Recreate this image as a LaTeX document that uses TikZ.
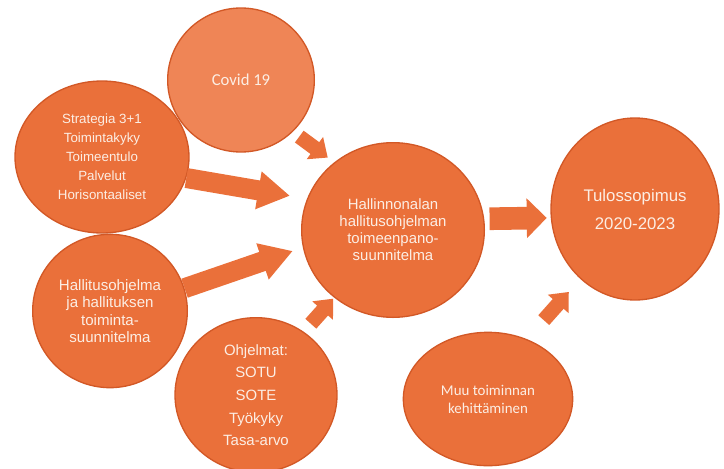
\documentclass[tikz,border=0pt]{standalone}
\usepackage{fontspec}
\setmainfont{Liberation Sans}
\newfontfamily\calibrifont{Carlito}
\usepackage{tikz}
\usetikzlibrary{arrows.meta,shapes.geometric}
\definecolor{ballorange}{RGB}{234,112,58}
\definecolor{balllight}{RGB}{239,133,86}
\definecolor{balledge}{RGB}{210,88,38}
\definecolor{balltext}{RGB}{252,238,228}

\begin{document}
\begin{tikzpicture}[x=0.75pt,y=-0.75pt,
  ball/.style={ellipse, fill=ballorange, draw=balledge, line width=1pt, inner sep=0pt, align=center, text=balltext},
  bigarrow/.style={ballorange, line width=15pt, -{Triangle[width=27pt,length=24pt]}},
  smallarrow/.style={ballorange, line width=11pt, -{Triangle[width=20pt,length=12pt]}}]
\useasboundingbox (0,0) rectangle (724,468);
% Circles
\node[ball, minimum width=130.5pt, minimum height=114pt, font=\fontsize{10}{14.3}\selectfont] (strat) at (102,157) {Strategia 3+1\\Toimintakyky\\Toimeentulo\\Palvelut\\Horisontaaliset};
\node[ball, fill=balllight, minimum width=110pt, minimum height=108pt, font=\calibrifont\fontsize{12.5}{14}\selectfont] (covid) at (241,80) {Covid 19};
\node[ball, minimum width=137pt, minimum height=131pt, font=\fontsize{11.2}{12.8}\selectfont] (mid) at (393,230) {Hallinnonalan\\hallitusohjelman\\toimeenpano-\\suunnitelma};
\node[ball, minimum width=126pt, minimum height=136.5pt, font=\fontsize{12.6}{21}\selectfont] (tulos) at (635,209) {Tulossopimus\\2020-2023};
\node[ball, minimum width=116pt, minimum height=115pt, font=\fontsize{11.3}{13}\selectfont] (hall) at (110,311) {Hallitusohjelma\\ja hallituksen\\toiminta-\\suunnitelma};
\node[ball, minimum width=121.5pt, minimum height=116pt, font=\fontsize{11.2}{17}\selectfont] (ohj) at (256,395) {Ohjelmat:\\SOTU\\SOTE\\Työkyky\\Tasa-arvo};
\node[ball, minimum width=127pt, minimum height=100pt, font=\calibrifont\fontsize{11.2}{13.5}\selectfont] (muu) at (488,399) {Muu toiminnan\\kehittäminen};
% Arrows into the middle
\draw[bigarrow, shorten >=13pt] (strat.-14) -- (mid.160);
\draw[bigarrow, shorten >=8pt] (hall.17) -- (mid.191);
\draw[smallarrow, shorten <=6pt, shorten >=6pt] (covid.-45) -- (mid.131);
\draw[smallarrow, shorten <=8pt, shorten >=1pt] (ohj.53) -- (mid.-131);
% Arrows to the result
\draw[bigarrow, line width=17pt, -{Triangle[width=29pt,length=15pt]}, shorten <=4pt, shorten >=3pt] (mid.7) -- (tulos.186);
\draw[smallarrow, shorten <=19pt, shorten >=13pt] (muu.57) -- (tulos.-128);
\end{tikzpicture}
\end{document}
